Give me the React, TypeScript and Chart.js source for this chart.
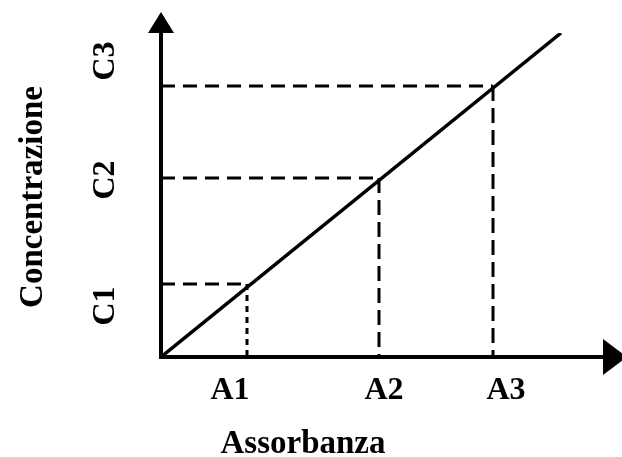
import React, { useEffect, useRef } from "react";
import { Chart, registerables } from "chart.js";

Chart.register(...registerables);

// Data
const absorbance = [0.86, 2.18, 3.32]; // A1, A2, A3
const concentration = [0.73, 1.79, 2.71]; // C1, C2, C3
const aLabels = ["A1", "A2", "A3"];
const cLabels = ["C1", "C2", "C3"];
const aLabelPos = [0.69, 2.23, 3.45];
const cLabelPos = [0.51, 1.77, 2.96];
const lineX = [0, 4.0];
const lineY = [0, 3.24];
const xTitle = "Assorbanza";
const yTitle = "Concentrazione";

const FONT = "'Liberation Serif', 'Times New Roman', serif";

const arrowsPlugin = {
  id: "arrowsAndTitles",
  afterDraw(chart: any) {
    const { ctx, chartArea } = chart;
    const { left, top, right, bottom } = chartArea;
    ctx.save();
    ctx.fillStyle = "#000";
    // y arrow
    ctx.beginPath();
    ctx.moveTo(left, top - 21);
    ctx.lineTo(left - 13, top);
    ctx.lineTo(left + 13, top);
    ctx.closePath();
    ctx.fill();
    // x arrow
    ctx.beginPath();
    ctx.moveTo(right + 24, bottom);
    ctx.lineTo(right, bottom - 18);
    ctx.lineTo(right, bottom + 18);
    ctx.closePath();
    ctx.fill();
    // titles
    ctx.font = `bold 33px ${FONT}`;
    ctx.textAlign = "center";
    ctx.textBaseline = "alphabetic";
    ctx.fillText(xTitle, left + 142, 453);
    ctx.translate(42, (top + bottom) / 2 + 2);
    ctx.rotate(-Math.PI / 2);
    ctx.fillText(yTitle, 0, 0);
    ctx.restore();
  },
};

function dashedSeg(x0: number, y0: number, x1: number, y1: number, dash: number[]) {
  return {
    data: [
      { x: x0, y: y0 },
      { x: x1, y: y1 },
    ],
    borderColor: "#000",
    borderWidth: 3,
    borderDash: dash,
    pointRadius: 0,
    showLine: true,
    fill: false,
  };
}

export default function App() {
  const ref = useRef<HTMLCanvasElement | null>(null);
  useEffect(() => {
    if (!ref.current) return;
    const datasets: any[] = [
      {
        data: lineX.map((x, i) => ({ x, y: lineY[i] })),
        borderColor: "#000",
        borderWidth: 3.5,
        pointRadius: 0,
        showLine: true,
        fill: false,
      },
    ];
    absorbance.forEach((a, i) => {
      const c = concentration[i];
      datasets.push(dashedSeg(0, c, a, c, [14, 8]));
      datasets.push(dashedSeg(a, c, a, 0, i === 0 ? [6, 5] : [15, 7]));
    });
    const chart = new Chart(ref.current, {
      type: "scatter",
      data: { datasets },
      plugins: [arrowsPlugin],
      options: {
        animation: false,
        responsive: false,
        layout: { padding: { left: 0, right: 19, top: 33, bottom: 0 } },
        plugins: {
          legend: { display: false },
          tooltip: { enabled: false },
        },
        elements: { line: { tension: 0 } },
        scales: {
          x: {
            type: "linear",
            min: 0,
            max: 4.42,
            grid: { display: false, drawTicks: false },
            border: { display: true, color: "#000", width: 4 },
            afterBuildTicks: (scale: any) => {
              scale.ticks = aLabelPos.map((v) => ({ value: v }));
            },
            afterFit: (scale: any) => {
              scale.height = 100;
              scale.paddingLeft = 0;
              scale.paddingRight = 0;
            },
            ticks: {
              autoSkip: false,
              maxRotation: 0,
              minRotation: 0,
              padding: 15,
              color: "#000",
              font: { family: FONT, size: 32, weight: "bold" },
              callback: (_v: any, i: number) => aLabels[i],
            },
          },
          y: {
            type: "linear",
            min: 0,
            max: 3.24,
            grid: { display: false, drawTicks: false },
            border: { display: true, color: "#000", width: 4 },
            afterBuildTicks: (scale: any) => {
              scale.ticks = cLabelPos.map((v) => ({ value: v }));
            },
            afterFit: (scale: any) => {
              scale.width = 161;
              scale.paddingTop = 0;
              scale.paddingBottom = 0;
            },
            ticks: {
              autoSkip: false,
              minRotation: 90,
              maxRotation: 90,
              crossAlign: "center",
              padding: 36,
              color: "#000",
              font: { family: FONT, size: 32, weight: "bold" },
              callback: (_v: any, i: number) => cLabels[i],
            },
          },
        },
      } as any,
    });
    return () => chart.destroy();
  }, []);
  return (
    <div style={{ position: "absolute", left: 0, top: 0, width: 622, height: 457, background: "#fff" }}>
      <canvas ref={ref} width={622} height={457} style={{ display: "block" }} />
    </div>
  );
}
